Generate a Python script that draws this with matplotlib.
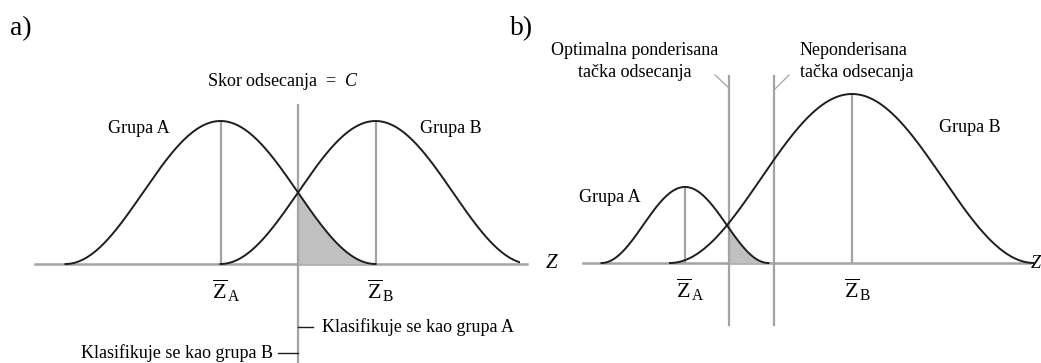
"""
plot.py

Two panels showing classification cut-off scores between two groups.
"""
import numpy as np
import matplotlib
matplotlib.use('Agg')
import matplotlib.pyplot as plt

plt.rcParams['font.family'] = ['Liberation Serif', 'DejaVu Serif']
plt.rcParams['mathtext.fontset'] = 'custom'
plt.rcParams['mathtext.rm'] = 'Liberation Serif'
plt.rcParams['mathtext.it'] = 'Liberation Serif:italic'

# panel a: two equal groups, one cut-off score
a_groups = ['Grupa A', 'Grupa B']
a_means = [-1.0, 1.0]
a_halfwidths = [2.0, 2.0]
a_heights = [1.0, 1.0]
a_cutoff = 0.0

# panel b: small group A, large group B, two cut-off points
b_groups = ['Grupa A', 'Grupa B']
b_means = [0.0, 2.0]
b_halfwidths = [1.0, 2.18]
b_heights = [0.45, 1.0]
b_cutoffs = [0.527, 1.066]
b_cutoff_labels = ['Optimalna ponderisana\ntačka odsecanja',
                   'Neponderisana\ntačka odsecanja']

mean_labels = [r'$\overline{\mathrm{Z}}_{\,\mathrm{A}}$',
               r'$\overline{\mathrm{Z}}_{\,\mathrm{B}}$']

CURVE = '#1e1e1e'
GRAY = '#a3a3a3'
FILL = '#c0c0c0'
FS = 13


def bell(x, mean, half, height):
    """
    Bell shaped curve that reaches the base line at mean +- half
    """
    t = np.clip((x - mean) / half, -1, 1)
    return height * (1 + np.cos(np.pi * t)) / 2


def draw_groups(ax, means, halfs, heights):
    """
    Draw the group curves and their mean lines
    """
    for m, h, top in zip(means, halfs, heights):
        x = np.linspace(m - h, m + h, 300)
        ax.plot(x, bell(x, m, h, top), color=CURVE, lw=1.4, zorder=3)
        ax.plot([m, m], [0, top], color=GRAY, lw=1.6, zorder=2)


fig = plt.figure(figsize=(10.41, 3.63), dpi=100)

# ---------- panel a ----------
ax = fig.add_axes([0, 0, 520 / 1041, 1])
ax.set_xlim(-298 / 77.5, 222 / 77.5)
ax.set_ylim(-99 / 143, 264 / 143)
ax.axis('off')

ax.plot([-3.39, 2.95], [0, 0], color=GRAY, lw=1.8, zorder=1, clip_on=False)
ax.text(3.2, 0, 'Z', style='italic', fontsize=15, va='center', ha='left',
        clip_on=False)

xs = np.linspace(a_cutoff, a_means[0] + a_halfwidths[0], 200)
ax.fill_between(xs, 0, bell(xs, a_means[0], a_halfwidths[0], a_heights[0]),
                color=FILL, lw=0, zorder=1)
draw_groups(ax, a_means, a_halfwidths, a_heights)

ax.plot([a_cutoff, a_cutoff], [1.112, -0.70], color=GRAY, lw=1.6, zorder=2)
ax.text(-0.19, 1.273, r'Skor odsecanja  =  $\mathit{C}$', fontsize=FS,
        ha='center', va='center')

ax.text(-2.06, 0.951, a_groups[0], fontsize=FS, ha='center', va='center')
ax.text(1.974, 0.951, a_groups[1], fontsize=FS, ha='center', va='center')
for m, lab in zip(a_means, mean_labels):
    ax.text(m + 0.07, -0.19, lab, fontsize=16, ha='center', va='center')

ax.plot([a_cutoff, 0.19], [-0.44, -0.44], color=CURVE, lw=1.0)
ax.text(0.31, -0.44, 'Klasifikuje se kao grupa A', fontsize=FS,
        ha='left', va='center')
ax.plot([-0.26, a_cutoff], [-0.62, -0.62], color=CURVE, lw=1.0)
ax.text(-0.32, -0.62, 'Klasifikuje se kao grupa B', fontsize=FS,
        ha='right', va='center')

fig.text(10 / 1041, 1 - 29 / 363, 'a)', fontsize=20, va='center')

# ---------- panel b ----------
bx = fig.add_axes([520 / 1041, 0, 521 / 1041, 1])
bx.set_xlim(-165 / 83.5, 356 / 83.5)
bx.set_ylim(-100 / 169, 263 / 169)
bx.axis('off')

bx.plot([-1.22, 4.13], [0, 0], color=GRAY, lw=1.8, zorder=1, clip_on=False)
bx.text(4.14, 0, 'Z', style='italic', fontsize=13, va='center', ha='left',
        clip_on=False)

xs = np.linspace(b_cutoffs[0], b_means[0] + b_halfwidths[0], 200)
bx.fill_between(xs, 0, bell(xs, b_means[0], b_halfwidths[0], b_heights[0]),
                color=FILL, lw=0, zorder=1)
draw_groups(bx, b_means, b_halfwidths, b_heights)

for c in b_cutoffs:
    bx.plot([c, c], [1.107, -0.367], color=GRAY, lw=1.6, zorder=2)

# pointers from the labels to the cut-off lines
bx.plot([0.36, b_cutoffs[0]], [1.112, 1.036], color=GRAY, lw=0.9)
bx.plot([1.246, b_cutoffs[1]], [1.112, 1.024], color=GRAY, lw=0.9)
bx.text(-0.6, 1.19, b_cutoff_labels[0], fontsize=FS, ha='center',
        va='center', linespacing=1.4)
bx.text(1.377, 1.19, b_cutoff_labels[1], fontsize=FS, ha='left',
        va='center', linespacing=1.4)

bx.text(-0.90, 0.39, b_groups[0], fontsize=FS, ha='center', va='center')
bx.text(3.41, 0.80, b_groups[1], fontsize=FS, ha='center', va='center')
for m, lab in zip(b_means, mean_labels):
    bx.text(m + 0.07, -0.16, lab, fontsize=16, ha='center', va='center')

fig.text(510 / 1041, 1 - 29 / 363, 'b)', fontsize=20, va='center')

fig.savefig('out.png', dpi=100, facecolor='white')
